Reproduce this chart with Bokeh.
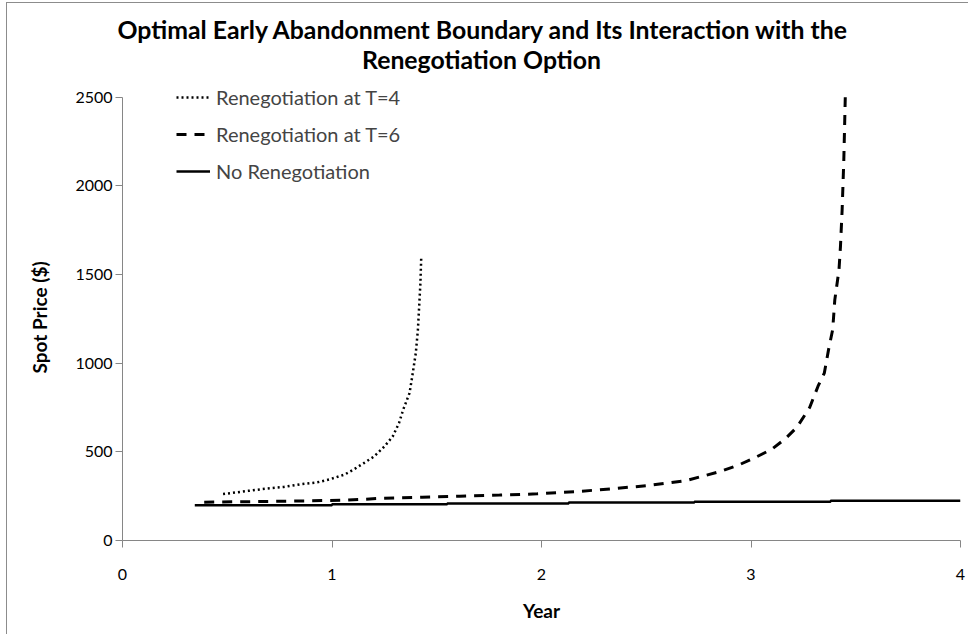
from bokeh.plotting import figure
from bokeh.models import Range1d, FixedTicker, Legend, Title, Label
from bokeh.embed import file_html
from bokeh.resources import INLINE

# ---- data ----
title_lines = ["Optimal Early Abandonment Boundary and Its Interaction with the",
               "Renegotiation Option"]
x_label = "Year"
y_label = "Spot Price ($)"
x_ticks = [0, 1, 2, 3, 4]
y_ticks = [0, 500, 1000, 1500, 2000, 2500]

years_t4 = [0.48, 0.60, 0.69, 0.77, 0.85, 0.93, 0.99, 1.06, 1.10, 1.15, 1.20, 1.25,
            1.29, 1.32, 1.34, 1.37, 1.383, 1.40, 1.41, 1.416, 1.422, 1.426]
price_t4 = [262, 280, 293, 302, 317, 328, 345, 372, 398, 435, 473, 530,
            587, 663, 738, 831, 925, 1057, 1188, 1319, 1451, 1600]

years_t6 = [0.39, 0.60, 0.80, 1.06, 1.24, 1.43, 1.61, 1.80, 1.98, 2.16, 2.34, 2.51,
            2.69, 2.85, 2.94, 3.02, 3.10, 3.165, 3.22, 3.28, 3.32, 3.35, 3.37, 3.39,
            3.40, 3.42, 3.427, 3.435, 3.443, 3.45]
price_t6 = [216, 219, 222, 227, 238, 244, 250, 256, 263, 275, 292, 310,
            338, 388, 425, 468, 515, 575, 640, 750, 870, 944, 1075, 1190,
            1357, 1526, 1657, 1864, 2145, 2500]

years_nr = [0.345, 1.00, 1.55, 2.13, 2.73, 3.38, 4.00]
price_nr = [199, 204, 209, 214, 219, 224, 224]

series_names = ["Renegotiation at T=4", "Renegotiation at T=6", "No Renegotiation"]

FONT = "Lato"
AXIS_GREY = "#868686"

# frame extends above 2500 (axis itself is bounded to 0..2500) so in-frame texts are not clipped
p = figure(frame_width=838, frame_height=496,
           min_border_left=115, min_border_right=8, min_border_top=41, min_border_bottom=94,
           x_range=Range1d(0, 4), y_range=Range1d(0, 2797), title=None,
           output_backend="svg", toolbar_location=None, background_fill_color="white",
           border_fill_color="white")
p.styles = {"border-left": "1px solid #8c8c8c", "border-top": "1px solid #8c8c8c",
            "margin-left": "6px", "margin-top": "2px"}

p.outline_line_color = None
p.xgrid.grid_line_color = None
p.ygrid.grid_line_color = None

r1 = p.line(years_t4, price_t4, line_color="black", line_width=2.5, line_dash="2 3")
r2 = p.line(years_t6, price_t6, line_color="black", line_width=3, line_dash="10 8")
r3 = p.step(years_nr, price_nr, mode="after", line_color="black", line_width=2.5)

for ax in (p.xaxis[0], p.yaxis[0]):
    ax.axis_line_color = AXIS_GREY
    ax.major_tick_line_color = AXIS_GREY
    ax.major_tick_in = 0
    ax.major_tick_out = 7
    ax.minor_tick_line_color = None
    ax.major_label_text_font = FONT
    ax.major_label_text_font_size = "16px"
    ax.major_label_text_color = "black"
    ax.axis_label_text_font = FONT
    ax.axis_label_text_font_size = "19px"
    ax.axis_label_text_font_style = "bold"
    ax.axis_label_text_color = "black"

p.xaxis[0].ticker = FixedTicker(ticks=x_ticks)
p.yaxis[0].ticker = FixedTicker(ticks=y_ticks)
p.yaxis[0].bounds = (0, 2500)
p.xaxis[0].axis_label = x_label
p.xaxis[0].major_label_standoff = 21
p.xaxis[0].axis_label_standoff = 16
p.yaxis[0].major_label_standoff = 3

# y-axis title, centred on the 0..2500 span of the axis
p.add_layout(Title(text=y_label, align="left", offset=167, vertical_align="top",
                   standoff=40, text_font=FONT, text_font_size="19px",
                   text_font_style="bold", text_color="black"), "left")

legend = Legend(items=[(series_names[0], [r1]), (series_names[1], [r2]), (series_names[2], [r3])],
                location=(54, 357), padding=0, margin=0, spacing=13,
                glyph_width=34, glyph_height=24, label_height=24, label_standoff=6,
                label_text_font=FONT, label_text_font_size="20px",
                border_line_color=None, background_fill_alpha=0)
p.add_layout(legend, "center")

# chart title: first line in the top panel, second line just above the axis top
p.add_layout(Title(text=title_lines[0], align="left", offset=-5, standoff=2,
                   text_font=FONT, text_font_size="24.8px", text_font_style="bold",
                   text_color="black"), "above")
p.add_layout(Label(x=359, y=481, x_units="screen", y_units="screen", text=title_lines[1],
                   text_align="center", text_baseline="middle", text_font=FONT,
                   text_font_size="24.8px", text_font_style="bold", text_color="black"))

open("out.html", "w").write(file_html(p, INLINE))
